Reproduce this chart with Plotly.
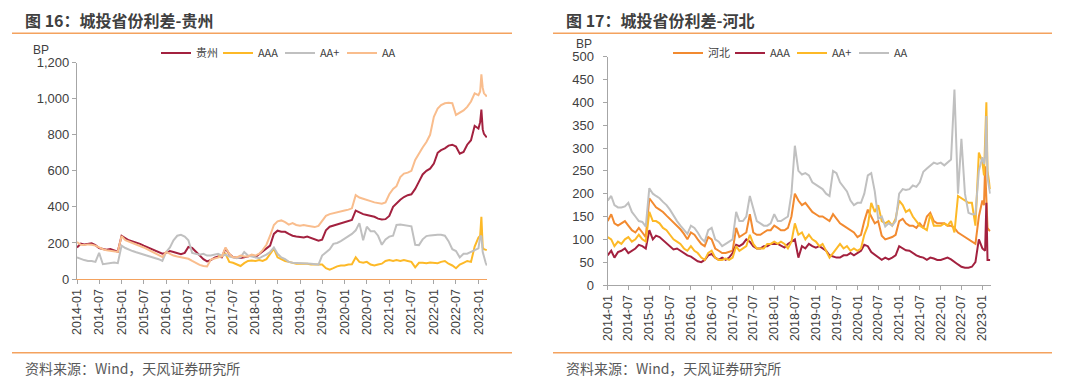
import pandas as pd
import plotly.graph_objects as go

# ---------------- data ----------------
months = [d.strftime("%Y-%m-%d") for d in pd.date_range("2014-01-01", "2022-12-01", freq="MS")]
tail_dates = ["2023-01-01", "2023-01-15", "2023-01-25", "2023-02-05", "2023-02-15", "2023-03-01", "2023-03-10"]
dates = months + tail_dates

# Left chart: 贵州
gz_guizhou = [
    175, 196, 192, 195, 198, 188, 172, 166, 162, 166, 158, 152,
    240, 225, 215, 208, 202, 195, 185, 176, 168, 160, 150, 140,
    145, 155, 150, 142, 138, 145, 178, 172, 150, 128, 110, 98,
    105, 118, 125, 120, 170, 138, 122, 118, 116, 120, 125, 130,
    122, 138, 150, 170, 185, 250, 268, 262, 262, 250, 240, 236,
    232, 230, 235, 226, 220, 212, 218, 270, 290, 296, 302, 310,
    318, 322, 328, 380, 370, 360, 355, 350, 345, 335, 330, 332,
    350, 400, 420, 440, 455, 465, 470, 500, 540, 580, 600, 612,
    640, 700, 715, 725, 740, 745, 735, 695, 705, 745, 770, 850,
    835, 870, 940, 830, 805, 795, 785,
]
gz_aaa = [None] * 38 + [
    125, 128, 140, 95, 90, 80, 72, 88, 100, 102,
    100, 105, 100, 110, 140, 168, 120, 108, 100, 95, 90, 85,
    85, 85, 84, 80, 80, 82, 80, 60, 52, 60, 70, 75,
    75, 80, 82, 120, 95, 90, 95, 80, 75, 80, 85, 100,
    105, 100, 105, 100, 105, 100, 95, 65, 90, 90, 88, 92,
    90, 88, 95, 100, 85, 75, 60, 80, 90, 100, 95, 180,
    230, 240, 345, 175, 165, 162, 160,
]
gz_aaplus = [
    120, 110, 105, 100, 100, 95, 145, 82, 85, 90, 92, 88,
    185, 172, 162, 155, 148, 142, 136, 130, 125, 118, 110, 100,
    150, 175, 215, 240, 245, 235, 215, 145, 140, 135, 140, 130,
    130, 135, 140, 130, 135, 125, 120, 115, 120, 150, 130, 125,
    120, 115, 125, 135, 150, 175, 140, 120, 110, 95, 90, 90,
    90, 88, 86, 84, 82, 80, 130, 145, 165, 195, 200, 210,
    225, 235, 250, 270, 310, 215, 290, 265, 265, 240, 190, 220,
    235, 240, 300, 302, 300, 298, 292, 190, 188, 220, 238, 242,
    245, 245, 245, 240, 210, 165, 155, 120, 140, 140, 150, 160,
    170, 235, 240, 150, 120, 90, 75,
]
gz_aa = [
    205, 190, 188, 192, 190, 185, 175, 165, 160, 158, 155, 150,
    238, 215, 208, 200, 195, 185, 175, 165, 155, 145, 135, 122,
    150, 140, 130, 125, 120, 115, 112, 100, 88, 78, 72, 70,
    108, 115, 120, 125, 175, 140, 120, 120, 130, 125, 125, 135,
    130, 140, 160, 190, 240, 300, 320, 325, 315, 302, 310, 300,
    295, 300, 296, 290, 288, 295, 320, 350, 360, 366, 370, 375,
    380, 385, 392, 465, 452, 445, 440, 432, 425, 420, 418, 425,
    470, 500, 515, 565, 585, 590, 600, 660, 700, 730, 760, 800,
    900, 945, 965, 975, 978, 975, 910, 925, 935, 955, 985, 1030,
    1020, 1040, 1135, 1060, 1030, 1020, 1012,
]

# Right chart: 河北
hb_hebei = [
    140, 155, 135, 130, 135, 140, 130, 120, 115, 125, 115, 105,
    190, 178, 170, 165, 160, 152, 145, 138, 130, 122, 112, 100,
    115, 110, 100, 90, 85, 105, 100, 80, 75, 70, 70, 72,
    75, 125, 105, 110, 115, 155, 115, 110, 110, 115, 120, 120,
    130, 125, 120, 120, 125, 150, 200, 185, 175, 180, 170, 160,
    155, 150, 150, 145, 140, 155, 145, 135, 130, 125, 120, 115,
    105, 110, 140, 165, 150, 135, 140, 108, 100, 102, 105, 110,
    140, 145, 135, 130, 130, 125, 135, 125, 150, 158, 140, 135,
    135, 135, 130, 130, 125, 115, 110, 105, 100, 95, 90, 150,
    185, 175, 260, 190, 125, 120, 118,
]
hb_aaa = [
    65, 75, 60, 72, 75, 80, 70, 75, 80, 88, 85, 80,
    120, 100, 108, 105, 98, 92, 85, 78, 80, 75, 70, 65,
    62, 57, 52, 50, 55, 65, 68, 60, 55, 60, 55, 60,
    70, 88, 85, 90, 100, 95, 85, 80, 80, 85, 85, 90,
    90, 90, 86, 82, 90, 95, 100, 60, 85, 80, 90, 85,
    82, 85, 80, 75, 65, 62, 60, 60, 65, 65, 70, 65,
    70, 75, 88, 85, 72, 66, 60, 55, 60, 56, 60, 65,
    85, 80, 76, 75, 70, 65, 62, 60, 55, 60, 58, 55,
    55, 58, 60, 56, 50, 45, 40, 38, 38, 40, 50, 100,
    80, 78, 75, 180, 55, 55, 55,
]
hb_aaplus = [
    105, 100, 85, 95, 90, 100, 105, 95, 100, 110, 100, 95,
    160, 140, 140, 135, 125, 120, 110, 100, 95, 90, 80, 75,
    85, 75, 70, 60, 55, 70, 75, 60, 55, 55, 58, 55,
    60, 85, 75, 80, 85, 110, 90, 80, 80, 80, 90, 90,
    95, 90, 95, 90, 80, 95, 135, 110, 115, 100, 110, 100,
    95, 85, 90, 75, 60, 70, 80, 90, 80, 85, 75, 80,
    75, 80, 110, 130, 180, 160, 175, 140, 135, 140, 130, 145,
    185, 175, 160, 165, 150, 140, 130, 125, 120, 155, 130, 130,
    130, 135, 130, 140, 115, 195, 190, 185, 180, 180, 130, 290,
    270, 240, 300, 400, 250, 225, 210,
]
hb_aa = [
    185, 195, 175, 170, 170, 172, 180, 160, 150, 140, 138, 128,
    212, 200, 195, 190, 182, 175, 165, 152, 140, 130, 120, 112,
    130, 125, 115, 102, 95, 120, 125, 100, 95, 85, 90, 95,
    100, 160, 140, 140, 150, 195, 165, 140, 135, 130, 130, 135,
    155, 140, 140, 145, 150, 200, 305, 250, 242, 245, 240, 225,
    220, 215, 210, 200, 195, 250, 245, 225, 215, 205, 185, 175,
    180, 180, 200, 240, 245, 205, 145, 150, 128, 135, 130, 140,
    200, 210, 208, 210, 218, 215, 225, 248, 255, 262, 268, 265,
    268, 262, 268, 275, 428, 200, 320, 200, 158, 155, 155, 250,
    280, 265, 280, 370, 235, 210, 200,
]

left_names = ["贵州", "AAA", "AA+", "AA"]
right_names = ["河北", "AAA", "AA+", "AA"]
left_tick_vals = [0, 200, 400, 600, 800, 1000, 1200]
right_tick_vals = [0, 50, 100, 150, 200, 250, 300, 350, 400, 450, 500]

# ---------------- style ----------------
W, H = 1080, 387
MAROON = "#A3213F"
GOLD = "#FDB927"
GRAY = "#C0C0C0"
PEACH = "#F9BD8D"
ORANGE = "#F28A30"
LINE_OR = "#F4A25E"
AX_GRAY = "#A6A6A6"
TXT = "#404040"
LATIN = "Liberation Sans, Arial, sans-serif"
CJK = "Noto Sans CJK SC, sans-serif"


def px(x):
    return x / W


def py(y):
    return 1 - y / H


fig = go.Figure()

left_series = [gz_guizhou, gz_aaa, gz_aaplus, gz_aa]
left_colors = [MAROON, GOLD, GRAY, PEACH]
for name, vals, col in zip(left_names, left_series, left_colors):
    fig.add_trace(go.Scatter(x=dates, y=vals, name=name, mode="lines",
                             line=dict(color=col, width=2), xaxis="x", yaxis="y",
                             legend="legend", connectgaps=False))

right_series = [hb_hebei, hb_aaa, hb_aaplus, hb_aa]
right_colors = [ORANGE, MAROON, GOLD, GRAY]
for name, vals, col in zip(right_names, right_series, right_colors):
    fig.add_trace(go.Scatter(x=dates, y=vals, name=name, mode="lines",
                             line=dict(color=col, width=2), xaxis="x2", yaxis="y2",
                             legend="legend2"))

common_x = dict(type="date", tickformat="%Y-%m", dtick="M6", tick0="2014-01-01",
                tickangle=-90, ticks="outside", ticklen=4, tickcolor=AX_GRAY,
                showline=True, linewidth=1.2, showgrid=False, zeroline=False,
                automargin=False,
                tickfont=dict(family=LATIN, size=12.5, color=TXT), fixedrange=True)
common_y = dict(ticks="outside", ticklen=4, tickcolor=AX_GRAY, showline=True,
                linecolor=AX_GRAY, linewidth=1.2, showgrid=False, zeroline=False,
                automargin=False,
                tickfont=dict(family=LATIN, size=13, color=TXT), fixedrange=True)

legend_common = dict(orientation="h", yanchor="middle", xanchor="left",
                     font=dict(family=CJK, size=11, color=TXT),
                     bgcolor="rgba(0,0,0,0)", itemwidth=30, entrywidth=17,
                     tracegroupgap=0)

fig.update_layout(
    width=W, height=H,
    margin=dict(l=0, r=0, t=0, b=0, pad=0, autoexpand=False),
    paper_bgcolor="white", plot_bgcolor="white",
    showlegend=True,
    xaxis=dict(common_x, domain=[px(77), px(487)], range=["2014-01-01", "2023-03-12"],
               linecolor=LINE_OR, anchor="y"),
    yaxis=dict(common_y, domain=[py(279), py(62.7)], range=[0, 1200],
               tickvals=left_tick_vals, tickformat=",", anchor="x"),
    xaxis2=dict(common_x, domain=[px(607.7), px(990.7)], range=["2014-01-01", "2023-03-15"],
                linecolor=AX_GRAY, anchor="y2"),
    yaxis2=dict(common_y, domain=[py(285), py(56.7)], range=[0, 500],
                tickvals=right_tick_vals, anchor="x2", ticklabelstandoff=6),
    legend=dict(legend_common, x=px(156), y=py(53)),
    legend2=dict(legend_common, x=px(668), y=py(53)),
)

annotations = [
    dict(text="<b>图 16：城投省份利差-贵州</b>", x=px(23), y=py(20), xanchor="left", yanchor="middle",
         font=dict(family=CJK, size=16, color=TXT)),
    dict(text="<b>图 17：城投省份利差-河北</b>", x=px(564), y=py(20), xanchor="left", yanchor="middle",
         font=dict(family=CJK, size=16, color=TXT)),
    dict(text="BP", x=px(41), y=py(50), xanchor="center", yanchor="middle",
         font=dict(family=LATIN, size=12, color=TXT)),
    dict(text="BP", x=px(584), y=py(44), xanchor="center", yanchor="middle",
         font=dict(family=LATIN, size=12, color=TXT)),
    dict(text="资料来源：Wind，天风证券研究所", x=px(23), y=py(368), xanchor="left", yanchor="middle",
         font=dict(family=CJK, size=14, color="#595959")),
    dict(text="资料来源：Wind，天风证券研究所", x=px(564), y=py(368), xanchor="left", yanchor="middle",
         font=dict(family=CJK, size=14, color="#595959")),
]
for a in annotations:
    a.update(xref="paper", yref="paper", showarrow=False)
fig.update_layout(annotations=annotations)

shapes = []
for x0, x1 in [(12, 512), (553, 1052)]:
    for yy in (33.3, 352.7):
        shapes.append(dict(type="line", xref="paper", yref="paper", x0=px(x0), x1=px(x1),
                           y0=py(yy), y1=py(yy), line=dict(color=LINE_OR, width=1.5)))
fig.update_layout(shapes=shapes)

fig.write_html("out.html",
               config={"displayModeBar": False},
               post_script="document.body.style.margin='0px';document.body.style.overflow='hidden';")
